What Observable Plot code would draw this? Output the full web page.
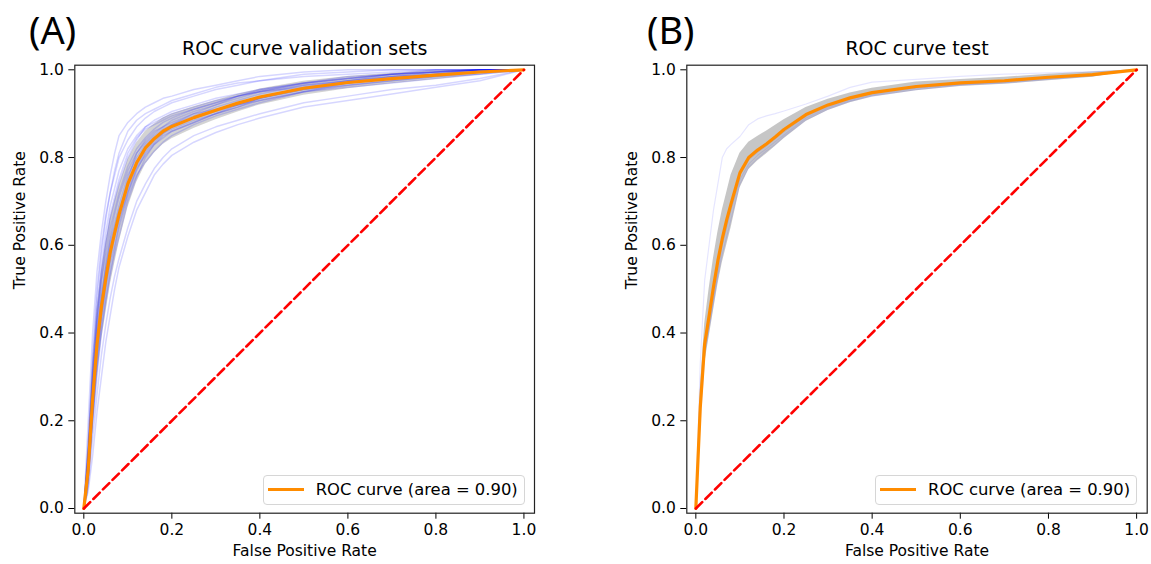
<!DOCTYPE html>
<html><head><meta charset="utf-8">
<script src="https://cdn.jsdelivr.net/npm/d3@7"></script>
<script src="https://cdn.jsdelivr.net/npm/@observablehq/plot@0.6"></script>
<style>
body{margin:0;background:#fff;}
#wrap{position:relative;width:1151px;height:564px;overflow:hidden;font-family:"DejaVu Sans",sans-serif;background:#fff;}
.panel{position:absolute;top:0;}
.legend{position:absolute;box-sizing:border-box;height:29.5px;border:1px solid #d6d6d6;border-radius:4px;background:rgba(255,255,255,0.85);font-size:16.4px;color:#000;}
.legend .sw{position:absolute;left:4px;top:12px;width:36px;height:3px;background:#ff8c00;}
.legend .tx{position:absolute;left:52px;top:50%;transform:translateY(-52%);white-space:nowrap;}
</style></head><body><div id="wrap"></div>
<script>
// shared false-positive-rate grid (read positions along the x axis)
const fprGrid = [0, 0.01, 0.02, 0.03, 0.04, 0.05, 0.06, 0.07, 0.08, 0.10, 0.12, 0.14, 0.16, 0.18, 0.20, 0.25, 0.30, 0.35, 0.40, 0.50, 0.60, 0.70, 0.80, 0.90, 1.0];
const xTicks = [0, 0.2, 0.4, 0.6, 0.8, 1.0];
const yTicks = [0, 0.2, 0.4, 0.6, 0.8, 1.0];
const diagX = [0, 1];
const diagY = [0, 1];

// ---- Panel A: validation sets ----
const meanA = [0, 0.09, 0.25, 0.375, 0.46, 0.525, 0.584, 0.628, 0.670, 0.740, 0.788, 0.822, 0.843, 0.860, 0.871, 0.891, 0.908, 0.924, 0.938, 0.958, 0.971, 0.980, 0.988, 0.995, 1.0];
const bandHiA = [0, 0.15, 0.33, 0.455, 0.54, 0.605, 0.66, 0.70, 0.735, 0.795, 0.833, 0.860, 0.876, 0.890, 0.899, 0.916, 0.930, 0.944, 0.956, 0.974, 0.985, 0.992, 0.998, 1.0, 1.0];
const bandLoA = [0, 0.03, 0.17, 0.295, 0.38, 0.445, 0.509, 0.558, 0.605, 0.685, 0.743, 0.784, 0.810, 0.830, 0.843, 0.866, 0.886, 0.904, 0.920, 0.942, 0.957, 0.968, 0.978, 0.988, 1.0];
const runA1  = [0, 0.20, 0.40, 0.54, 0.63, 0.70, 0.76, 0.81, 0.85, 0.88, 0.90, 0.915, 0.925, 0.935, 0.94, 0.955, 0.965, 0.975, 0.985, 0.995, 1, 1, 1, 1, 1];
const runA2  = [0, 0.15, 0.33, 0.48, 0.58, 0.66, 0.72, 0.77, 0.81, 0.86, 0.885, 0.90, 0.91, 0.92, 0.93, 0.945, 0.96, 0.97, 0.975, 0.985, 0.99, 0.995, 1, 1, 1];
const runA3  = [0, 0.12, 0.30, 0.42, 0.52, 0.60, 0.66, 0.70, 0.74, 0.80, 0.84, 0.87, 0.885, 0.895, 0.905, 0.92, 0.935, 0.945, 0.955, 0.97, 0.98, 0.99, 0.995, 1, 1];
const runA4  = [0, 0.10, 0.27, 0.40, 0.49, 0.55, 0.61, 0.65, 0.69, 0.76, 0.80, 0.83, 0.85, 0.865, 0.875, 0.895, 0.915, 0.93, 0.945, 0.965, 0.975, 0.985, 0.99, 0.995, 1];
const runA5  = [0, 0.08, 0.22, 0.35, 0.44, 0.51, 0.57, 0.62, 0.66, 0.72, 0.77, 0.81, 0.835, 0.855, 0.87, 0.89, 0.905, 0.92, 0.935, 0.955, 0.965, 0.975, 0.985, 0.995, 1];
const runA6  = [0, 0.07, 0.20, 0.32, 0.41, 0.48, 0.54, 0.59, 0.64, 0.71, 0.76, 0.79, 0.815, 0.835, 0.85, 0.875, 0.895, 0.91, 0.925, 0.95, 0.965, 0.975, 0.985, 0.99, 1];
const runA7  = [0, 0.05, 0.16, 0.26, 0.35, 0.42, 0.48, 0.53, 0.57, 0.64, 0.70, 0.74, 0.775, 0.80, 0.82, 0.85, 0.87, 0.885, 0.90, 0.925, 0.94, 0.955, 0.965, 0.98, 1];
const runA8  = [0, 0.04, 0.12, 0.22, 0.30, 0.38, 0.44, 0.50, 0.55, 0.62, 0.68, 0.72, 0.76, 0.785, 0.805, 0.835, 0.857, 0.875, 0.89, 0.915, 0.93, 0.945, 0.96, 0.975, 1];
const runA9  = [0, 0.11, 0.28, 0.44, 0.55, 0.63, 0.69, 0.73, 0.77, 0.82, 0.85, 0.87, 0.88, 0.89, 0.90, 0.915, 0.93, 0.94, 0.95, 0.96, 0.97, 0.985, 0.99, 0.995, 1];
const runA10 = [0, 0.09, 0.24, 0.37, 0.47, 0.54, 0.60, 0.64, 0.68, 0.74, 0.79, 0.825, 0.845, 0.86, 0.875, 0.90, 0.92, 0.94, 0.955, 0.97, 0.985, 0.99, 0.995, 1, 1];
const runA11 = [0, 0.13, 0.26, 0.38, 0.46, 0.53, 0.58, 0.63, 0.67, 0.75, 0.81, 0.84, 0.86, 0.87, 0.88, 0.90, 0.91, 0.92, 0.93, 0.95, 0.97, 0.98, 0.99, 1, 1];
const runA12 = [0, 0.06, 0.19, 0.30, 0.40, 0.47, 0.53, 0.58, 0.62, 0.70, 0.755, 0.80, 0.83, 0.85, 0.86, 0.88, 0.90, 0.915, 0.935, 0.96, 0.975, 0.99, 1, 1, 1];
const runA13 = [0, 0.14, 0.35, 0.50, 0.60, 0.67, 0.72, 0.76, 0.80, 0.84, 0.87, 0.89, 0.905, 0.915, 0.925, 0.94, 0.955, 0.965, 0.975, 0.99, 0.995, 1, 1, 1, 1];
const runA14 = [0, 0.10, 0.26, 0.39, 0.48, 0.56, 0.62, 0.67, 0.71, 0.77, 0.81, 0.835, 0.855, 0.87, 0.885, 0.905, 0.92, 0.935, 0.95, 0.97, 0.98, 0.99, 0.995, 1, 1];
const runA15 = [0, 0.07, 0.23, 0.36, 0.45, 0.52, 0.58, 0.63, 0.67, 0.73, 0.78, 0.815, 0.84, 0.855, 0.865, 0.885, 0.90, 0.92, 0.935, 0.955, 0.97, 0.98, 0.99, 1, 1];
const runA16 = [0, 0.11, 0.29, 0.43, 0.52, 0.58, 0.64, 0.68, 0.72, 0.78, 0.82, 0.845, 0.865, 0.88, 0.89, 0.91, 0.925, 0.94, 0.952, 0.968, 0.98, 0.99, 0.995, 1, 1];
const runA17 = [0, 0.08, 0.21, 0.33, 0.43, 0.50, 0.56, 0.60, 0.65, 0.72, 0.775, 0.805, 0.83, 0.845, 0.86, 0.88, 0.90, 0.915, 0.93, 0.95, 0.96, 0.97, 0.98, 0.99, 1];
const runA18 = [0, 0.12, 0.31, 0.45, 0.54, 0.61, 0.67, 0.71, 0.75, 0.81, 0.845, 0.865, 0.875, 0.885, 0.895, 0.91, 0.925, 0.94, 0.95, 0.965, 0.975, 0.985, 0.995, 1, 1];

// ---- Panel B: test ----
const meanB = [0, 0.23, 0.375, 0.438, 0.505, 0.565, 0.615, 0.658, 0.695, 0.765, 0.800, 0.817, 0.831, 0.847, 0.864, 0.898, 0.920, 0.936, 0.948, 0.962, 0.970, 0.975, 0.983, 0.989, 1.0];
const bandHiB = [0, 0.27, 0.42, 0.50, 0.57, 0.63, 0.68, 0.72, 0.76, 0.81, 0.835, 0.848, 0.86, 0.873, 0.886, 0.914, 0.933, 0.947, 0.958, 0.972, 0.978, 0.983, 0.99, 0.995, 1.0];
const bandLoB = [0, 0.19, 0.33, 0.39, 0.45, 0.51, 0.56, 0.60, 0.64, 0.73, 0.772, 0.792, 0.808, 0.825, 0.843, 0.882, 0.907, 0.925, 0.938, 0.952, 0.962, 0.967, 0.975, 0.983, 1.0];
const runB1 = [0, 0.33, 0.52, 0.60, 0.68, 0.74, 0.80, 0.82, 0.83, 0.848, 0.875, 0.888, 0.895, 0.90, 0.906, 0.922, 0.94, 0.96, 0.972, 0.978, 0.985, 0.99, 0.993, 0.996, 1];
const runB2 = [0, 0.20, 0.35, 0.41, 0.47, 0.53, 0.58, 0.62, 0.66, 0.74, 0.778, 0.798, 0.815, 0.83, 0.848, 0.886, 0.91, 0.928, 0.94, 0.955, 0.965, 0.97, 0.978, 0.986, 1];
const runB3 = [0, 0.22, 0.36, 0.42, 0.48, 0.54, 0.60, 0.64, 0.68, 0.75, 0.785, 0.805, 0.82, 0.836, 0.852, 0.89, 0.913, 0.93, 0.943, 0.958, 0.967, 0.972, 0.98, 0.988, 1];
const runB4 = [0, 0.25, 0.38, 0.44, 0.50, 0.56, 0.61, 0.65, 0.69, 0.76, 0.795, 0.812, 0.826, 0.842, 0.858, 0.894, 0.916, 0.933, 0.946, 0.96, 0.968, 0.974, 0.982, 0.99, 1];

const legendText = "ROC curve (area = 0.90)";

function makePanel({title, mean, lo, hi, runs, runOpacity, runWidth, bandOpacity, width, ml, mr}) {
  const meanData = fprGrid.map((x, i) => ({x, y: mean[i]}));
  const bandData = fprGrid.map((x, i) => ({x, lo: lo[i], hi: hi[i]}));
  const runData = runs.flatMap((r, k) => fprGrid.map((x, i) => ({x, y: r[i], run: k})));
  const diag = diagX.map((x, i) => ({x, y: diagY[i]}));
  return Plot.plot({
    width, height: 564,
    marginTop: 64.7, marginBottom: 51.3, marginLeft: ml, marginRight: mr,
    style: {fontFamily: "DejaVu Sans", fontSize: "15.5px", color: "#000", background: "transparent", overflow: "visible"},
    x: {domain: [-0.0205, 1.024], ticks: xTicks, tickFormat: d3.format(".1f"), tickSize: 6, tickPadding: 5, label: null},
    y: {domain: [-0.0107, 1.0105], ticks: yTicks, tickFormat: d3.format(".1f"), tickSize: 6, tickPadding: 5, label: null},
    marks: [
      Plot.areaY(bandData, {x: "x", y1: "lo", y2: "hi", fill: "#808080", fillOpacity: bandOpacity}),
      Plot.line(runData, {x: "x", y: "y", z: "run", stroke: "#0000ff", strokeOpacity: runOpacity, strokeWidth: runWidth}),
      Plot.line(meanData, {x: "x", y: "y", stroke: "#ff8c00", strokeWidth: 3.2}),
      Plot.line(diag, {x: "x", y: "y", stroke: "#ff0000", strokeWidth: 2.6, strokeDasharray: "9,4.5"}),
      Plot.frame({stroke: "#222", strokeWidth: 1.2}),
      Plot.text([title], {text: d => d, frameAnchor: "top", dy: -16.4, fontSize: 19, lineAnchor: "middle"}),
      Plot.text(["False Positive Rate"], {text: d => d, frameAnchor: "bottom", dy: 38.3, lineAnchor: "middle"}),
      Plot.text(["True Positive Rate"], {text: d => d, frameAnchor: "left", dx: -54.3, rotate: -90, lineAnchor: "middle"})
    ]
  });
}

const wrap = document.getElementById("wrap");

function addPanel(left, svg) {
  const d = document.createElement("div");
  d.className = "panel";
  d.style.left = left + "px";
  d.appendChild(svg);
  wrap.appendChild(d);
}
function addTag(left, text) {
  const t = document.createElement("div");
  t.style.cssText = `position:absolute;left:${left}px;top:5px;font-family:'Noto Sans';font-size:38px;line-height:48px;color:#000;`;
  t.textContent = text;
  wrap.appendChild(t);
}
function addLegend(left, width) {
  const l = document.createElement("div");
  l.className = "legend";
  l.style.left = left + "px";
  l.style.top = "475px";
  l.style.width = width + "px";
  l.innerHTML = `<div class="sw"></div><div class="tx"></div>`;
  l.querySelector(".tx").textContent = legendText;
  wrap.appendChild(l);
}

addPanel(0, makePanel({
  title: "ROC curve validation sets", mean: meanA, lo: bandLoA, hi: bandHiA,
  runs: [runA1, runA2, runA3, runA4, runA5, runA6, runA7, runA8, runA9, runA10, runA11, runA12, runA13, runA14, runA15, runA16, runA17, runA18],
  runOpacity: 0.16, runWidth: 1.5, bandOpacity: 0.35, width: 560, ml: 74.3, mr: 26
}));
addPanel(576, makePanel({
  title: "ROC curve test", mean: meanB, lo: bandLoB, hi: bandHiB,
  runs: [runB1, runB2, runB3, runB4],
  runOpacity: 0.1, runWidth: 1.2, bandOpacity: 0.45, width: 575, ml: 110.3, mr: 4.3
}));
addTag(29, "(A)");
addTag(647, "(B)");
addLegend(262.7, 262.6);
addLegend(875, 261.7);
</script>
</body></html>
